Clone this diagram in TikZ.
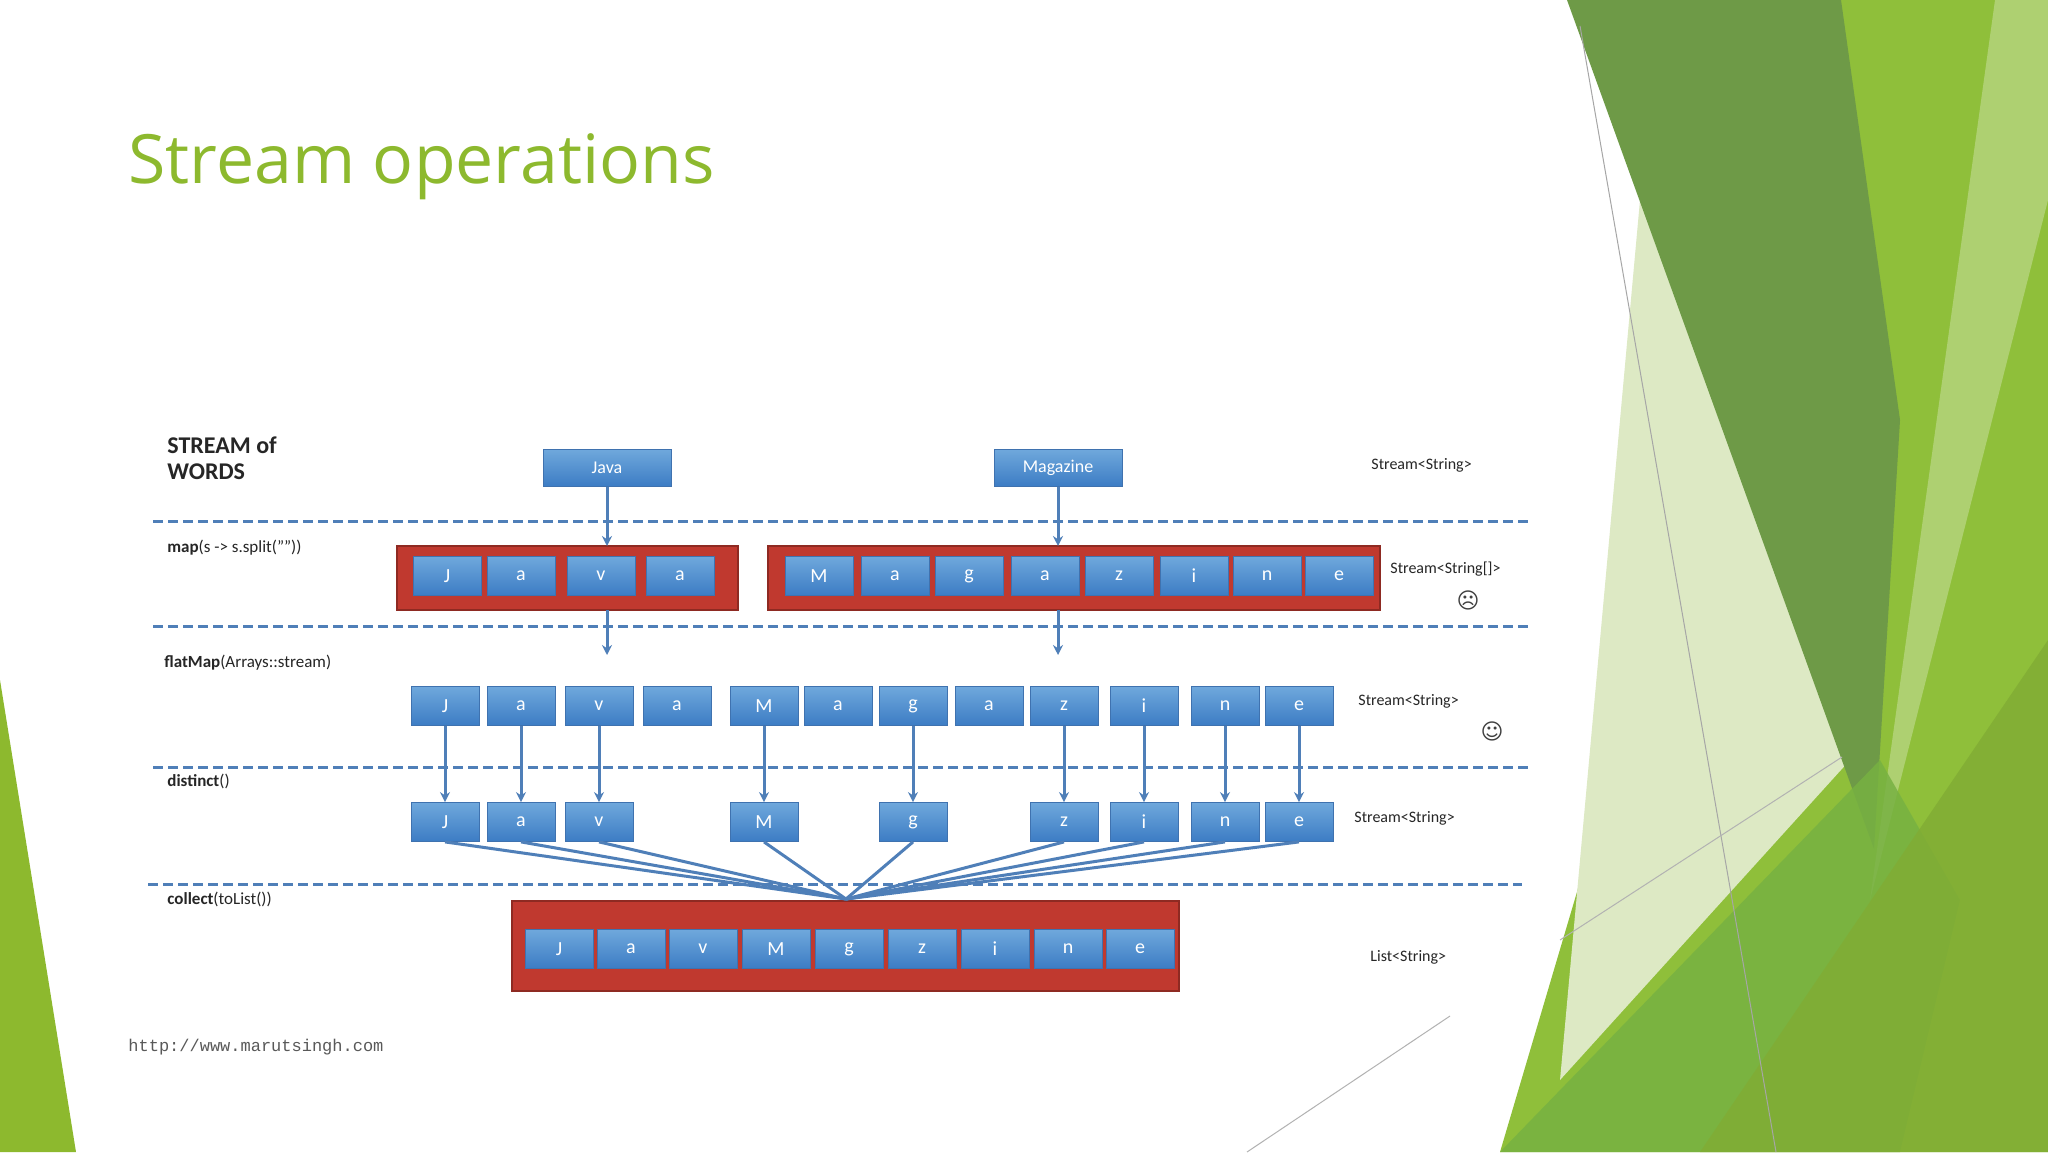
\documentclass[tikz,border=0pt]{standalone}
\usepackage{fontspec}
\setmainfont{Carlito}
\newfontfamily\titlefont{Open Sans}
\newfontfamily\symfont{DejaVu Sans}
\newfontfamily\urlfont{Liberation Mono}
\usetikzlibrary{arrows.meta}
\definecolor{tgreen}{HTML}{8DB92E}
\definecolor{bbord}{HTML}{3F72AF}
\definecolor{btop}{HTML}{6FA8DC}
\definecolor{bbot}{HTML}{3C7CC4}
\definecolor{rfill}{HTML}{C0392F}
\definecolor{rbord}{HTML}{8E2A22}
\definecolor{dline}{HTML}{4F7FB8}
\definecolor{gbright}{HTML}{8FBF3A}
\definecolor{gdark}{HTML}{6E9A47}
\definecolor{gpale}{HTML}{DDE9C4}
\definecolor{gmid}{HTML}{77B142}
\begin{document}
\begin{tikzpicture}[x=0.5pt,y=-0.5pt,
  letter/.style={draw=bbord,top color=btop,bottom color=bbot,text=white,minimum width=34pt,minimum height=19.5pt,inner sep=0pt,font=\fontsize{10}{12}\selectfont},
  word/.style={letter,minimum width=64pt,minimum height=18.5pt,font=\fontsize{9}{11}\selectfont},
  redbox/.style={draw=rbord,fill=rfill,line width=1pt},
  sep/.style={dline,line width=1.5pt,dash pattern=on 5pt off 2.5pt},
  arr/.style={dline,line width=1.5pt,-{Stealth[length=5pt,width=5pt]}},
  lab/.style={anchor=north west,inner sep=0pt,font=\fontsize{8.5}{10}\selectfont,text=black!85},
  rlab/.style={anchor=west,inner sep=0pt,font=\fontsize{8}{10}\selectfont,text=black!85}]
\useasboundingbox (0,0) rectangle (2048,1152);
\fill[white] (0,0) rectangle (2048,1152);
% decoration
\fill[tgreen] (0,680) -- (0,1152) -- (76,1152) -- cycle;
\fill[gbright] (1841,0) -- (2048,0) -- (2048,1152) -- (1500,1152) -- cycle;
\fill[gpale] (1640,200) -- (1850,760) -- (1560,1080) -- cycle;
\fill[gdark] (1567,0) -- (1841,0) -- (1900,420) -- (1874,849) -- cycle;
\fill[gbright!60!white,opacity=0.7] (1995,0) -- (2048,0) -- (2048,200) -- (1870,900) -- cycle;
\fill[gmid,opacity=0.85] (1500,1152) -- (1880,760) -- (1960,900) -- (1900,1152) -- cycle;
\fill[gbright!90!black,opacity=0.8] (1700,1152) -- (2048,640) -- (2048,1152) -- cycle;
\draw[gray!70,line width=0.5pt] (1580,26) -- (1776,1152);
\draw[gray!60,line width=0.5pt] (1560,940) -- (1842,757);
\draw[gray!60,line width=0.5pt] (1247,1152) -- (1450,1016);
% title
\node[anchor=base west,inner sep=0pt,text=tgreen,font=\titlefont\fontsize{34}{40}\selectfont] (title) at (128,183) {Stream operations};
\node[anchor=base west,inner sep=0pt,text=black!65,font=\urlfont\fontsize{8.5}{10}\selectfont] (url) at (128,1051) {http://www.marutsingh.com};
% separators
\draw[sep] (153,521) -- (1528,521);
\draw[sep] (153,626) -- (1528,626);
\draw[sep] (153,767) -- (1528,767);
\draw[sep] (148,884) -- (1522,884);
% left labels
\node[lab,font=\fontsize{12}{13}\selectfont\bfseries,align=left] (l0) at (167,436) {STREAM of\\WORDS};
\node[lab] (l1) at (167,540) {\textbf{map}(s -> s.split(""))};
\node[lab] (l2) at (164,655) {\textbf{flatMap}(Arrays::stream)};
\node[lab] (l3) at (167,774) {\textbf{distinct}()};
\node[lab] (l4) at (167,892) {\textbf{collect}(toList())};
% right labels
\node[rlab] (r0) at (1371,465) {Stream<String>};
\node[rlab] (r1) at (1390,569) {Stream<String[]>};
\node[font=\symfont\fontsize{11}{12}\selectfont,text=black!75,inner sep=0pt] (sad) at (1468,600) {☹};
\node[rlab] (r2) at (1358,701) {Stream<String>};
\node[font=\symfont\fontsize{11}{12}\selectfont,text=black!75,inner sep=0pt] (happy) at (1492,731) {☺};
\node[rlab] (r3) at (1354,818) {Stream<String>};
\node[rlab] (r4) at (1370,957) {List<String>};
% words
\node[word] (java) at (607,468) {Java};
\node[word] (mag) at (1058,468) {Magazine};
% red boxes
\draw[redbox] (397,546) rectangle (738,610);
\draw[redbox] (768,546) rectangle (1380,610);
\draw[redbox] (512,901) rectangle (1179,991);
\coordinate (r1top) at (607,546); \coordinate (r1bot) at (607,610);
\coordinate (r2top) at (1058,546); \coordinate (r2bot) at (1058,610);
\foreach \x/\t [count=\i] in {447/J,521/a,601/v,680/a}
  \node[letter] (a\i) at (\x,576) {\t};
\foreach \x/\t [count=\i] in {819/M,895/a,969/g,1045/a,1119/z,1194/i,1267/n,1339/e}
  \node[letter] (b\i) at (\x,576) {\t};
\foreach \x/\t [count=\i] in {445/J,521/a,599/v,677/a,764/M,838/a,913/g,989/a,1064/z,1144/i,1225/n,1299/e}
  \node[letter] (f\i) at (\x,706) {\t};
\foreach \x/\t/\s in {445/J/1,521/a/2,599/v/3,764/M/5,913/g/7,1064/z/9,1144/i/10,1225/n/11,1299/e/12}
  \node[letter] (d\s) at (\x,822) {\t};
\foreach \x/\t [count=\i] in {559/J,631/a,703/v,776/M,849/g,922/z,995/i,1068/n,1140/e}
  \node[letter] (c\i) at (\x,949) {\t};
\coordinate (conv) at (846,899);
% arrows
\draw[arr] (java) -- (r1top);
\draw[arr] (mag) -- (r2top);
\draw[arr] (r1bot) -- (607,655);
\draw[arr] (r2bot) -- (1058,655);
\foreach \s in {1,2,3,5,7,9,10,11,12} {
  \draw[arr] (f\s) -- (d\s);
  \draw[dline,line width=1.5pt] (d\s.south) -- (conv);
}
\end{tikzpicture}
\end{document}
